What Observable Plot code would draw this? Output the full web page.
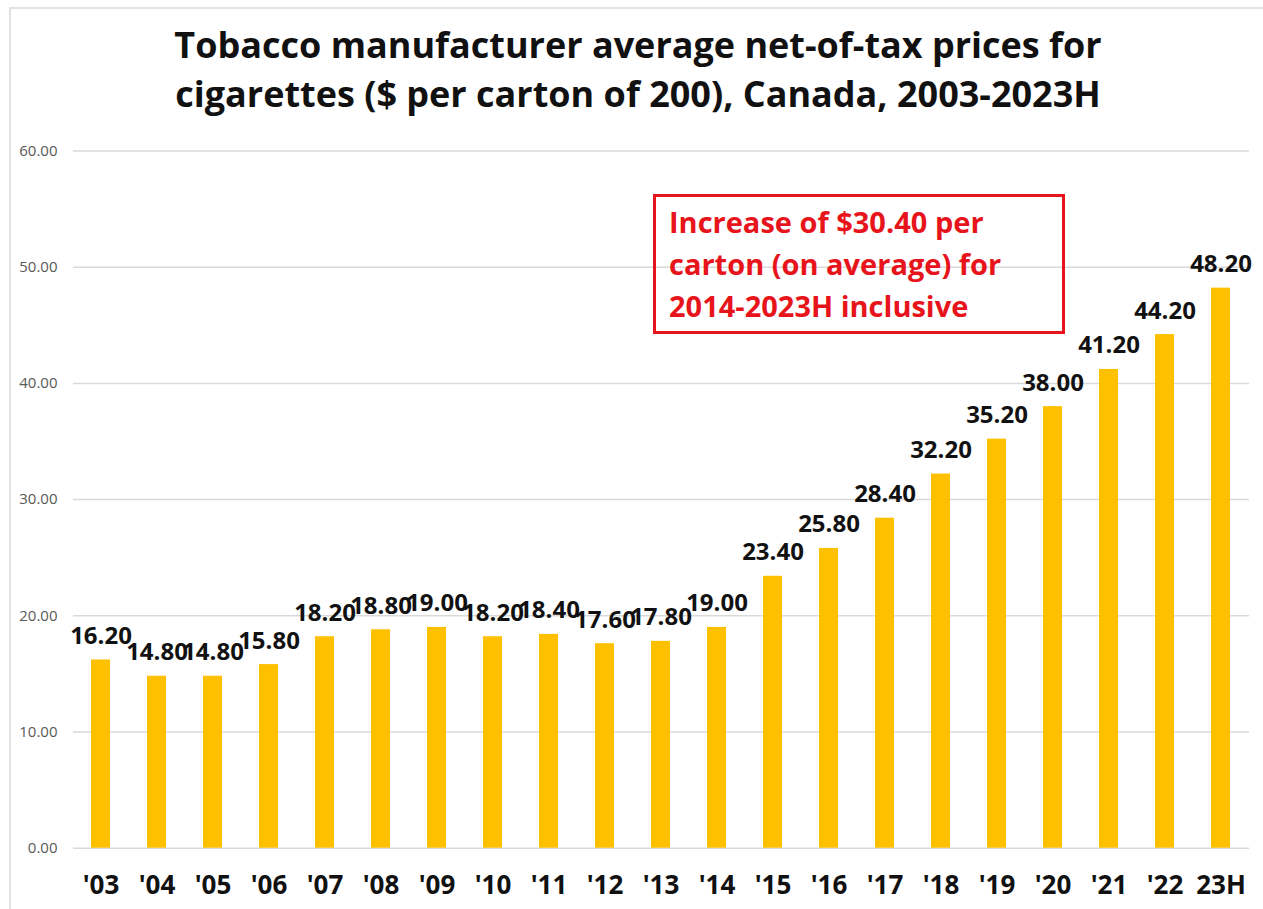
<!DOCTYPE html>
<html>
<head>
<meta charset="utf-8">
<script src="https://cdn.jsdelivr.net/npm/d3@7"></script>
<script src="https://cdn.jsdelivr.net/npm/@observablehq/plot@0.6"></script>
<style>
  html, body { margin: 0; padding: 0; background: #fff; overflow: hidden; width: 1263px; height: 909px; }
  #frame { position: absolute; left: 9px; top: 7px; width: 1400px; height: 1000px; border: 2px solid #e2e2e2; box-sizing: border-box; }
  #title { position: absolute; left: 0; top: 20px; width: 1276px; text-align: center; font-family: "Open Sans", sans-serif; font-weight: 700; font-size: 36px; line-height: 49px; color: #111; white-space: nowrap; }
  #chart { position: absolute; left: 0; top: 120px; }
  #note { position: absolute; left: 653px; top: 194px; width: 412px; height: 140px; box-sizing: border-box; border: 3px solid #e8141b; padding: 4px 0 0 13px; font-family: "Open Sans", sans-serif; font-weight: 700; font-size: 29px; line-height: 42px; color: #e8141b; white-space: nowrap; }
  #chart svg g[aria-label="x-axis tick label"] text { font-weight: 700; }
</style>
</head>
<body>
<div id="frame"></div>
<div id="title">Tobacco manufacturer average net-of-tax prices for<br>cigarettes ($ per carton of 200), Canada, 2003-2023H</div>
<div id="chart"></div>
<div id="note">Increase of $30.40 per<br>carton (on average) for<br>2014-2023H inclusive</div>
<script>
const years = ["'03","'04","'05","'06","'07","'08","'09","'10","'11","'12","'13","'14","'15","'16","'17","'18","'19","'20","'21","'22","23H"];
const prices = [16.20,14.80,14.80,15.80,18.20,18.80,19.00,18.20,18.40,17.60,17.80,19.00,23.40,25.80,28.40,32.20,35.20,38.00,41.20,44.20,48.20];
const yTicks = [0,10,20,30,40,50,60];

const data = years.map((year, i) => ({year, price: prices[i]}));

const chart = Plot.plot({
  width: 1263,
  height: 789,
  marginLeft: 73,
  marginRight: 14,
  marginTop: 30.5,
  marginBottom: 61.3,
  style: {fontFamily: "'Open Sans', sans-serif", background: "transparent"},
  x: {domain: years, paddingInner: 0.66, paddingOuter: 0.33, label: null},
  y: {domain: [0, 60], label: null},
  marks: [
    Plot.ruleY(yTicks, {stroke: "#d9d9d9", strokeWidth: 1.5}),
    Plot.barY(data, {x: "year", y: "price", fill: "#ffc000"}),
    Plot.text(data, {x: "year", y: "price", text: d => d3.format(".2f")(d.price), lineAnchor: "bottom", dy: -16, fontSize: 24, fontWeight: 700, fill: "#111"}),
    Plot.axisY({ticks: yTicks, tickFormat: d3.format(".2f"), tickSize: 0, tickPadding: 16, fontSize: 15, color: "#595959", label: null}),
    Plot.axisX({tickSize: 0, tickPadding: 27, fontSize: 26, color: "#111", label: null})
  ]
});
document.getElementById("chart").appendChild(chart);
</script>
</body>
</html>
